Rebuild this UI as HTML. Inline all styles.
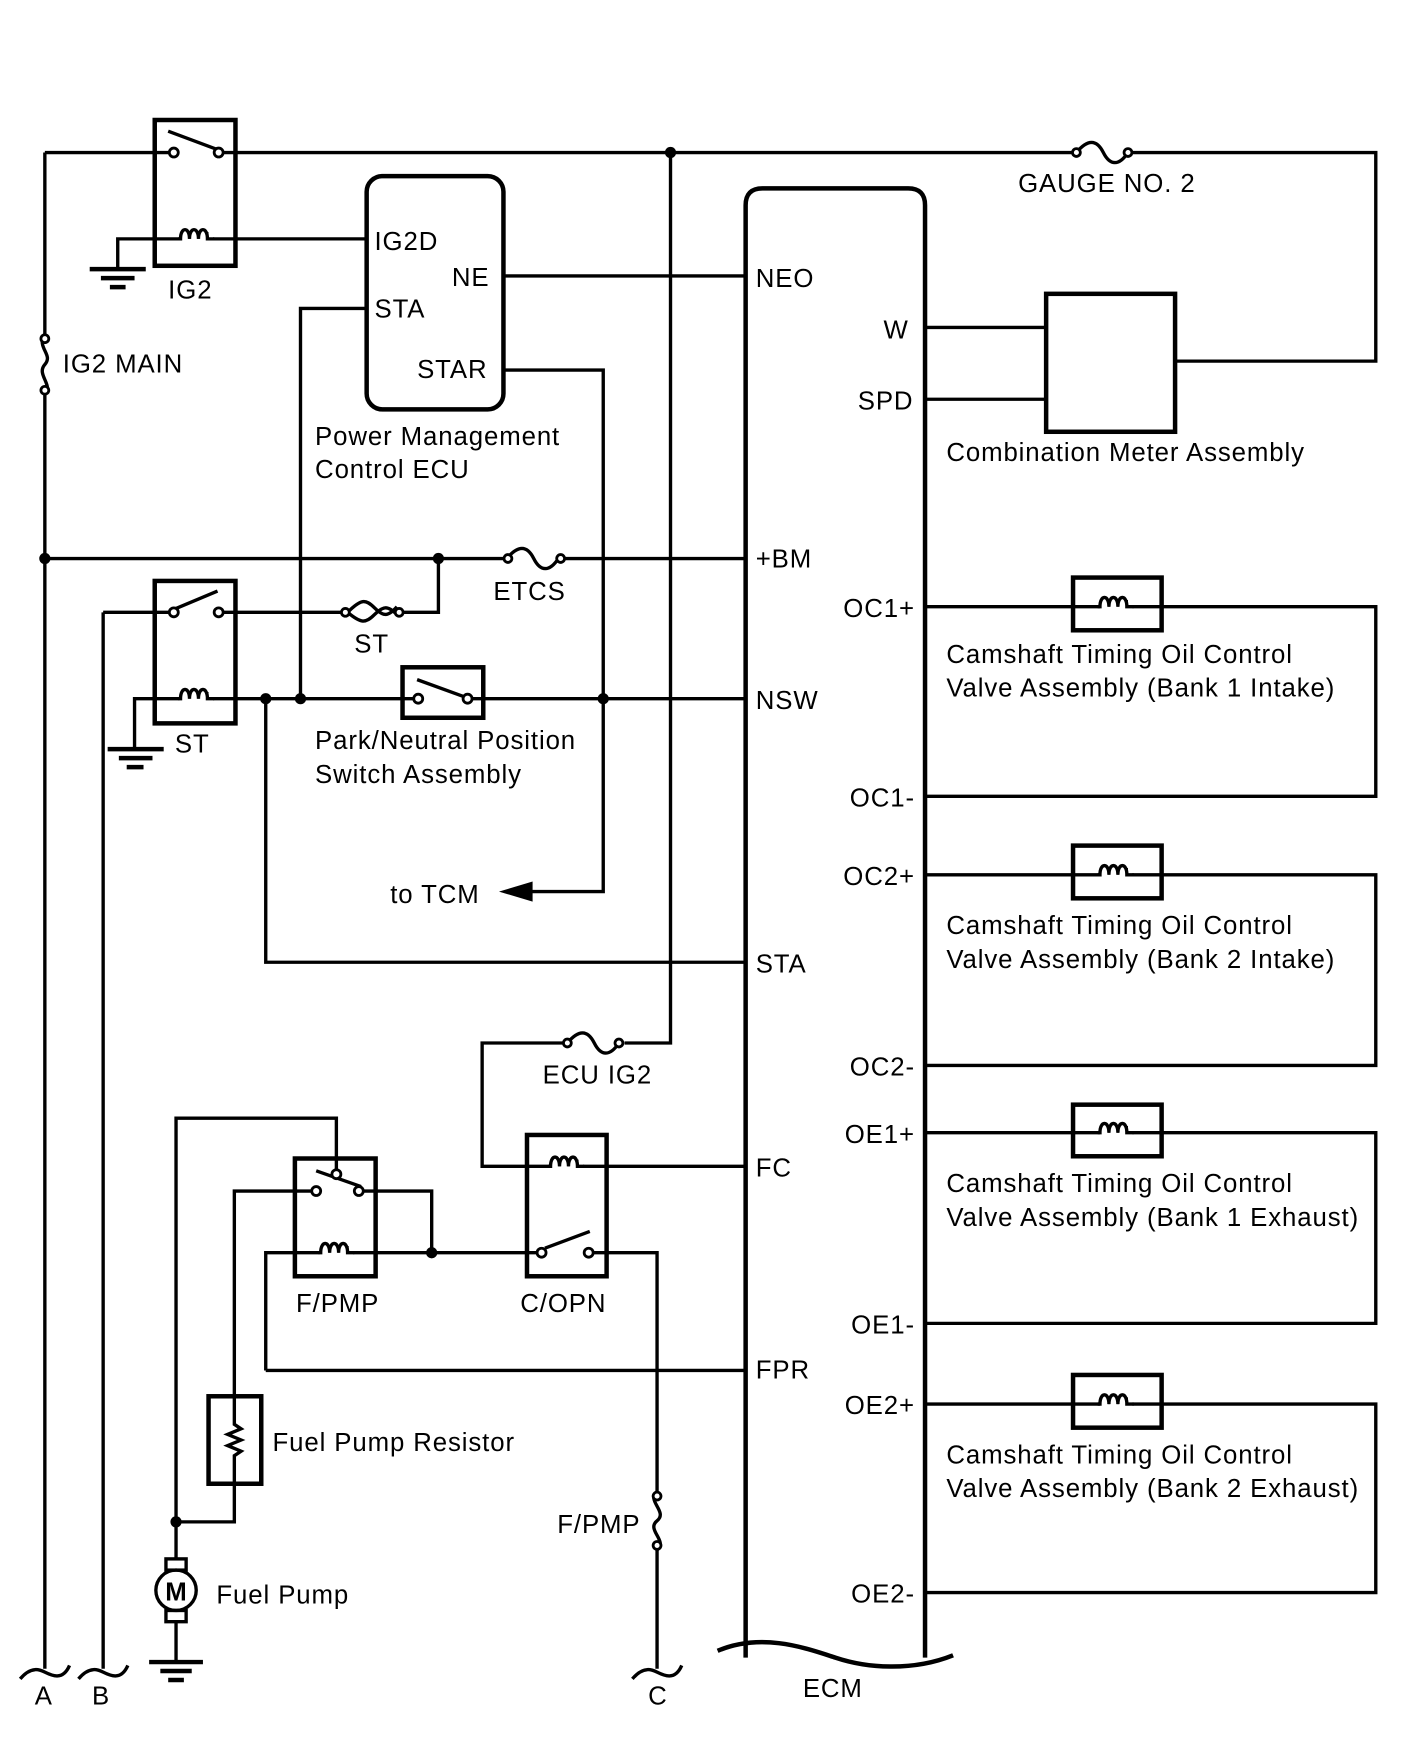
<!DOCTYPE html>
<html><head><meta charset="utf-8"><style>
html,body{margin:0;padding:0;background:#fff;}
svg{display:block;}
text{font-family:"Liberation Sans",sans-serif;font-size:23px;letter-spacing:0.8px;fill:#000;}
</style></head><body>
<svg width="1424" height="1763" viewBox="0 0 1270 1572" preserveAspectRatio="none" xmlns="http://www.w3.org/2000/svg">
<defs>
<g id="coilH"><path d="M-16 0 h2 c0 -11 8 -11 8 0 c0 -11 8 -11 8 0 c0 -11 8 -11 8 0 h6" fill="none" stroke="#000" stroke-width="3"/><path d="M-6 0 v-6 M2 0 v-6 M10 0 v-6" stroke="#000" stroke-width="2"/></g>
</defs>
<g fill="none" stroke="#000" stroke-width="3">
<path d="M40 136 V298 M40 352 V1488"/>
<path d="M40 298 c-8 12 8 18 0 27 c-8 9 8 18 0 27"/>
<path d="M40 136 H151 M199 136 H956 M1010 136 H1227 V322 H1048"/>
<path d="M960 136 c10 -12 18 -12 24 0 c6 12 14 12 22 0"/>
<rect x="138" y="107" width="72" height="130" stroke-width="4"/>
<path d="M150 117 L193 133"/>
<path d="M105 240 V213 H160 M190 213 H327"/>
<path d="M80 240 H130" stroke-width="4"/><path d="M90 248 H120" stroke-width="4"/><path d="M98 256 H112" stroke-width="4"/>
<rect x="327" y="157" width="122" height="208" rx="14" stroke-width="4"/>
<path d="M449 246 H665"/>
<path d="M327 275 H268 V623"/>
<path d="M449 330 H538 V795 H472"/>
<path d="M598 136 V930 H557 M503 930 H430 V1040 H490 M520 1040 H665"/>
<path d="M506 930 c10 -12 18 -12 24 0 c6 12 14 12 22 0"/>
<path d="M665 1478 V183 q0 -15 15 -15 H810 q15 0 15 15 V1478" stroke-width="4"/>
<path d="M640 1472 C680 1455 720 1470 745 1478 C775 1488 815 1490 850 1476" stroke-width="4"/>
<rect x="933" y="262" width="115" height="123" stroke-width="4"/>
<path d="M825 292 H933 M825 356 H933"/>
<path d="M40 498 H449 M503 498 H665 M391 498 V546 H358 M92 546 H151 M199 546 H305"/>
<path d="M452 498 c10 -12 18 -12 24 0 c6 12 14 12 22 0"/>
<path d="M310 546 c12 -12 16 -12 24 -4 c8 8 12 8 20 -1 M310 546 c12 10 16 10 24 2 c8 -8 12 -8 20 0"/>
<rect x="138" y="518" width="72" height="127" stroke-width="4"/>
<path d="M156 543 L194 527"/>
<path d="M92 546 V1488"/>
<path d="M120 668 V623 H160 M190 623 H369 M421 623 H665"/>
<path d="M96 668 H146" stroke-width="4"/><path d="M106 676 H136" stroke-width="4"/><path d="M113 684 H128" stroke-width="4"/>
<rect x="359" y="595" width="72" height="45" stroke-width="4"/>
<path d="M372 606 L416 622"/>
<path d="M237 623 V858 H665"/>
<path d="M825 541 H981 M1010 541 H1227 V710 H825"/><rect x="957" y="515" width="79" height="47" stroke-width="4"/>
<path d="M825 780 H981 M1010 780 H1227 V950 H825"/><rect x="957" y="754" width="79" height="47" stroke-width="4"/>
<path d="M825 1010 H981 M1010 1010 H1227 V1180 H825"/><rect x="957" y="985" width="79" height="46" stroke-width="4"/>
<path d="M825 1252 H981 M1010 1252 H1227 V1420 H825"/><rect x="957" y="1226" width="79" height="47" stroke-width="4"/>
<rect x="263" y="1033" width="72" height="105" stroke-width="4"/>
<path d="M157 1390 V997 H300 V1043"/>
<path d="M282 1044 L322 1058"/>
<path d="M209 1245 V1062 H279 M324 1062 H385 V1117"/>
<path d="M237 1222 V1117 H285 M315 1117 H479"/>
<path d="M237 1222 H665"/>
<rect x="470" y="1012" width="71" height="126" stroke-width="4"/>
<path d="M486 1113 L526 1098"/>
<path d="M529 1117 H586 V1330 M586 1382 V1488"/>
<path d="M586 1330 c-10 8 10 18 0 26 c-10 8 10 18 0 26"/>
<rect x="186" y="1245" width="47" height="78" stroke-width="4"/>
<path d="M209 1245 V1270 l6 4 l-12 5 l12 5 l-12 5 l12 5 l-6 4 V1357 H157"/>
<circle cx="157" cy="1418" r="18"/>
<rect x="148" y="1390" width="18" height="10"/><rect x="148" y="1436" width="18" height="10"/>
<path d="M157 1446 V1482"/>
<path d="M133 1482 H181" stroke-width="4"/><path d="M143 1490 H171" stroke-width="4"/><path d="M150 1498 H164" stroke-width="4"/>
<path d="M18 1497 c10 -12 18 -8 22 -6 c6 3 16 8 22 -6"/>
<path d="M70 1497 c10 -12 18 -8 22 -6 c6 3 16 8 22 -6"/>
<path d="M564 1497 c10 -12 18 -8 22 -6 c6 3 16 8 22 -6"/>
</g>
<use href="#coilH" x="175" y="213"/><use href="#coilH" x="175" y="623"/>
<use href="#coilH" x="300" y="1117"/><use href="#coilH" x="505" y="1040"/>
<use href="#coilH" x="995" y="541"/><use href="#coilH" x="995" y="780"/>
<use href="#coilH" x="995" y="1010"/><use href="#coilH" x="995" y="1252"/>
<g fill="#fff" stroke="#000" stroke-width="2.5">
<circle cx="155" cy="136" r="4"/><circle cx="195" cy="136" r="4"/>
<circle cx="155" cy="546" r="4"/><circle cx="195" cy="546" r="4"/>
<circle cx="373" cy="623" r="4"/><circle cx="417" cy="623" r="4"/>
<circle cx="282" cy="1062" r="4"/><circle cx="320" cy="1062" r="4"/><circle cx="300" cy="1047" r="4"/>
<circle cx="483" cy="1117" r="4"/><circle cx="525" cy="1117" r="4"/>
<circle cx="453" cy="498" r="3.5"/><circle cx="500" cy="498" r="3.5"/>
<circle cx="960" cy="136" r="3.5"/><circle cx="1006" cy="136" r="3.5"/>
<circle cx="506" cy="930" r="3.5"/><circle cx="552" cy="930" r="3.5"/>
<circle cx="308" cy="546" r="3.5"/><circle cx="356" cy="546" r="3.5"/>
<circle cx="40" cy="302" r="3.5"/><circle cx="40" cy="348" r="3.5"/>
<circle cx="586" cy="1334" r="3.5"/><circle cx="586" cy="1378" r="3.5"/>
</g>
<g fill="#000">
<circle cx="598" cy="136" r="5"/><circle cx="40" cy="498" r="5"/><circle cx="391" cy="498" r="5"/>
<circle cx="237" cy="623" r="5"/><circle cx="268" cy="623" r="5"/><circle cx="538" cy="623" r="5"/>
<circle cx="385" cy="1117" r="5"/><circle cx="157" cy="1357" r="5"/>
<path d="M445 795 L475 786 L475 804 Z"/>
</g>
<text x="157" y="1427" font-size="24" text-anchor="middle" font-weight="bold" style="letter-spacing:0">M</text>
<text x="908" y="171">GAUGE NO. 2</text>
<text x="150" y="266">IG2</text>
<text x="56" y="332">IG2 MAIN</text>
<text x="334" y="223">IG2D</text><text x="403" y="255">NE</text><text x="334" y="283">STA</text><text x="372" y="337">STAR</text>
<text x="281" y="397">Power Management</text><text x="281" y="426">Control ECU</text>
<text x="674" y="256">NEO</text><text x="788" y="302">W</text><text x="765" y="365">SPD</text>
<text x="844" y="411">Combination Meter Assembly</text>
<text x="674" y="506">+BM</text><text x="440" y="535">ETCS</text><text x="316" y="582">ST</text>
<text x="156" y="671">ST</text>
<text x="281" y="668">Park/Neutral Position</text><text x="281" y="698">Switch Assembly</text>
<text x="674" y="632">NSW</text><text x="348" y="805">to TCM</text><text x="674" y="867">STA</text>
<text x="484" y="966">ECU IG2</text><text x="674" y="1049">FC</text>
<text x="264" y="1170">F/PMP</text><text x="464" y="1170">C/OPN</text>
<text x="674" y="1229">FPR</text>
<text x="243" y="1294">Fuel Pump Resistor</text><text x="497" y="1367">F/PMP</text>
<text x="193" y="1430">Fuel Pump</text>
<text x="31" y="1520">A</text><text x="82" y="1520">B</text><text x="578" y="1520">C</text><text x="716" y="1513">ECM</text>
<g text-anchor="end">
<text x="816" y="550">OC1+</text><text x="816" y="719">OC1-</text>
<text x="816" y="789">OC2+</text><text x="816" y="959">OC2-</text>
<text x="816" y="1019">OE1+</text><text x="816" y="1189">OE1-</text>
<text x="816" y="1261">OE2+</text><text x="816" y="1429">OE2-</text>
</g>
<text x="844" y="591">Camshaft Timing Oil Control</text><text x="844" y="621">Valve Assembly (Bank 1 Intake)</text>
<text x="844" y="833">Camshaft Timing Oil Control</text><text x="844" y="863">Valve Assembly (Bank 2 Intake)</text>
<text x="844" y="1063">Camshaft Timing Oil Control</text><text x="844" y="1093">Valve Assembly (Bank 1 Exhaust)</text>
<text x="844" y="1305">Camshaft Timing Oil Control</text><text x="844" y="1335">Valve Assembly (Bank 2 Exhaust)</text>
</svg>
</body></html>
